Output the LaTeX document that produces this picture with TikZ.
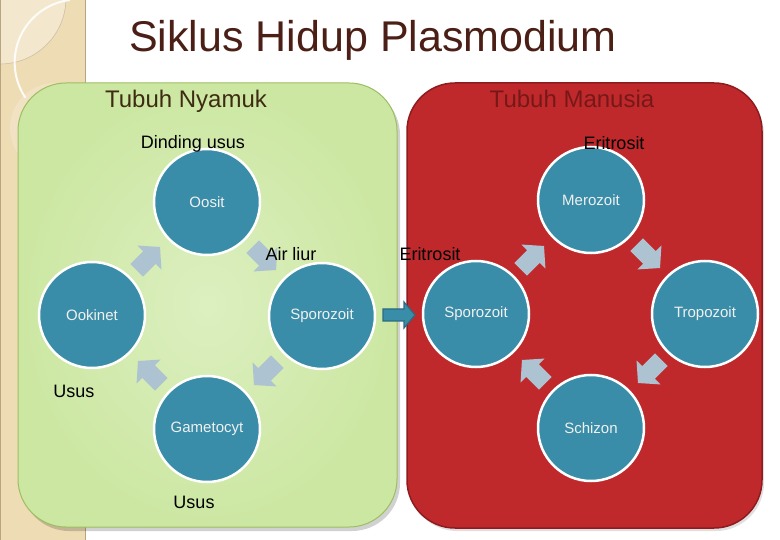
\documentclass[tikz,border=0pt]{standalone}
\usepackage{fontspec}
\setmainfont{Liberation Sans}
\usetikzlibrary{calc}
\definecolor{beige}{HTML}{EEDCB4}
\definecolor{beigelight}{HTML}{F3E7CD}
\definecolor{beigeline}{HTML}{B9A47E}
\definecolor{greenin}{HTML}{DCEFC0}
\definecolor{greenout}{HTML}{CCE7A2}
\definecolor{greenedge}{HTML}{9DBE62}
\definecolor{redfill}{HTML}{C0292C}
\definecolor{rededge}{HTML}{8E1C1F}
\definecolor{teal1}{HTML}{3A8DA8}
\definecolor{tealdark}{HTML}{2A6B82}
\definecolor{arrowc}{HTML}{AEC3D1}
\definecolor{titlec}{HTML}{4B1F16}
\definecolor{nyamukc}{HTML}{3D2B12}
\definecolor{manusiac}{HTML}{771818}
\tikzset{
  stage/.style={circle, fill=teal1, draw=white, line width=2.5pt, minimum size=106pt,
    inner sep=0pt, text=white!94!black, font=\fontsize{15}{15}\selectfont},
  lbl/.style={anchor=base, inner sep=0pt, text=black, font=\fontsize{18}{18}\selectfont},
  hdr/.style={anchor=base, inner sep=0pt, font=\fontsize{24}{24}\selectfont},
  cycarrow/.pic={\fill[arrowc] (-16,-9) -- (2,-9) -- (2,-17) -- (17,0) -- (2,17) -- (2,9) -- (-16,9) -- cycle;},
  bigarrow/.pic={\filldraw[fill=teal1, draw=tealdark, line width=1.2pt] (-16,-6) -- (5,-6) -- (5,-13) -- (16,0) -- (5,13) -- (5,6) -- (-16,6) -- cycle;}
}
\begin{document}
\begin{tikzpicture}[x=1pt,y=-1pt]
\useasboundingbox (0,0) rectangle (780,540);
\fill[white] (0,0) rectangle (780,540);
% left decorative strip
\fill[beige] (0,0) rectangle (85,540);
\begin{scope}
  \clip (0,0) rectangle (85,540);
  \fill[beigelight] (0,-2) circle (66);
  \draw[beigeline!70, line width=0.6pt] (0,-2) circle (66);
  \fill[beigelight, opacity=0.6] (55,128) circle (45);
  \draw[white, line width=2pt, opacity=0.9] (70,0) arc[start angle=263, end angle=146, radius=63];
\end{scope}
\draw[beigeline, line width=1pt] (85,0) -- (85,540);
\draw[beigeline, line width=1pt] (0.5,0) -- (0.5,540);
% title
\node[anchor=base, inner sep=0pt, text=titlec, font=\fontsize{43}{43}\selectfont] (title) at (373,52) {Siklus Hidup Plasmodium};
% mosquito body
\fill[black, opacity=0.18, rounded corners=48] (21,87) rectangle (400,531);
\draw[greenedge, line width=1pt, inner color=greenin, outer color=greenout, rounded corners=48] (18,83) rectangle (397,527);
% human body
\fill[black, opacity=0.12, rounded corners=48] (409,86) rectangle (764,531);
\draw[rededge, line width=1.5pt, fill=redfill, rounded corners=48] (407,83) rectangle (762,528);
% headers
\node[hdr, text=nyamukc] (hnyamuk) at (186,108) {Tubuh Nyamuk};
\node[hdr, text=manusiac] (hmanusia) at (572,108) {Tubuh Manusia};
% left cycle
\node[stage] (oosit) at (207,202) {Oosit};
\node[stage] (ookinet) at (92,315) {Ookinet};
\node[stage] (spl) at (322,316) {Sporozoit};
\node[stage] (game) at (207,429) {Gametocyt};
\pic[rotate=45] at (148,259) {cycarrow};
\pic[rotate=-45] at (264,258) {cycarrow};
\pic[rotate=-135] at (266,373) {cycarrow};
\pic[rotate=135] at (150,373) {cycarrow};
% right cycle
\node[stage] (mero) at (591,200) {Merozoit};
\node[stage] (spr) at (476,314) {Sporozoit};
\node[stage] (tropo) at (705,314) {Tropozoit};
\node[stage] (schiz) at (591,428) {Schizon};
\pic[rotate=45] at (532,258) {cycarrow};
\pic[rotate=-45] at (648,256) {cycarrow};
\pic[rotate=-135] at (650,371) {cycarrow};
\pic[rotate=135] at (534,372) {cycarrow};
% transfer arrow
\coordinate (mid) at ($(spl.east)!0.5!(spr.west)$);
\pic at (mid) {bigarrow};
% labels
\node[lbl] (ldinding) at (193,149) {Dinding usus};
\node[lbl] (leri1) at (614,150) {Eritrosit};
\node[lbl] (lair) at (291,261) {Air liur};
\node[lbl] (leri2) at (430,261) {Eritrosit};
\node[lbl] (lusus1) at (74,398) {Usus};
\node[lbl] (lusus2) at (194,508) {Usus};
\end{tikzpicture}
\end{document}
